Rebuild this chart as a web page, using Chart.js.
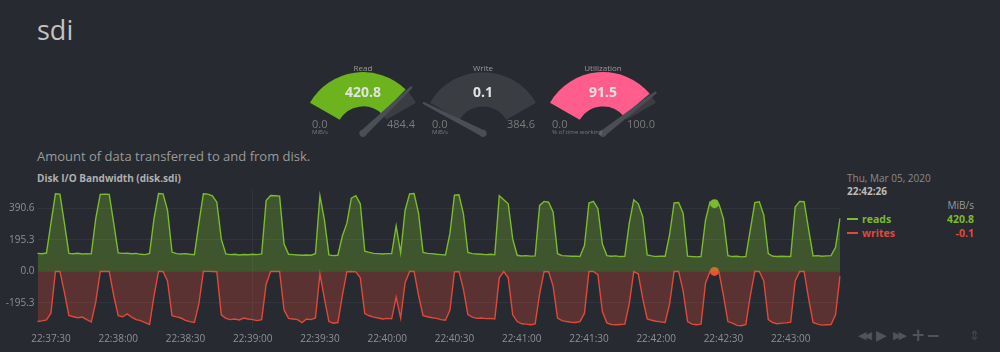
<!DOCTYPE html>
<html>
<head>
<meta charset="utf-8">
<script src="https://cdn.jsdelivr.net/npm/chart.js@4.4.1/dist/chart.umd.min.js"></script>
<style>
html, body { margin: 0; padding: 0; background: #272a30; width: 1000px; height: 352px; overflow: hidden;
  font-family: "Open Sans", Helvetica, Arial, sans-serif; }
.t { position: absolute; white-space: nowrap; line-height: 1; }
.tb { position: absolute; white-space: nowrap; line-height: 1; color: #50545a; font-family: "DejaVu Sans", sans-serif; }
canvas { position: absolute; }
</style>
</head>
<body>
<div class="t" style="left:37px;top:16px;font-size:27px;color:#c2c2c2">sdi</div>
<div class="t" style="left:37px;top:150px;font-size:13px;color:#9a9a9a">Amount of data transferred to and from disk.</div>
<div class="t" style="left:37px;top:173px;font-size:10px;font-weight:bold;color:#b0b0b0">Disk I/O Bandwidth (disk.sdi)</div>

<div class="t" style="left:847px;top:173px;font-size:10px;color:#8a8a8a">Thu, Mar 05, 2020</div>
<div class="t" id="legTime" style="left:847px;top:186px;font-size:10px;font-weight:bold;color:#bbbbbb"></div>
<div class="t" style="right:26px;top:200px;font-size:10px;color:#9a9a9a">MiB/s</div>
<div class="t" style="left:847px;top:218px;width:11px;height:2px;background:#7cba2e"></div>
<div class="t" style="left:862px;top:214px;font-size:10.5px;font-weight:bold;color:#7cba2e">reads</div>
<div class="t" id="legReads" style="right:26px;top:214px;font-size:10.5px;font-weight:bold;color:#7cba2e"></div>
<div class="t" style="left:847px;top:232px;width:11px;height:2px;background:#e0493a"></div>
<div class="t" style="left:862px;top:228px;font-size:10.5px;font-weight:bold;color:#e0493a">writes</div>
<div class="t" id="legWrites" style="right:26px;top:228px;font-size:10.5px;font-weight:bold;color:#e0493a"></div>

<div class="tb" style="left:858px;top:330px;font-size:11px;letter-spacing:-3px">◀◀</div>
<div class="tb" style="left:876px;top:328px;font-size:14px">▶</div>
<div class="tb" style="left:893px;top:330px;font-size:11px;letter-spacing:-3px">▶▶</div>
<div class="tb" style="left:911px;top:327px;font-size:17px;font-weight:bold">+</div>
<div class="tb" style="left:926px;top:327px;font-size:17px;font-weight:bold">−</div>
<div class="tb" style="left:969px;top:329px;font-size:13px;color:#45494f">⇕</div>

<canvas id="main" width="845" height="172" style="left:0;top:180px"></canvas>

<script>
// gauges
const gaugeNames = ['Read', 'Write', 'Utilization'];
const gaugeValues = [420.8, 0.1, 91.5];
const gaugeMax = [484.4, 384.6, 100.0];
const gaugeUnits = ['MiB/s', 'MiB/s', '% of time working'];
const gaugeColors = ['#6db31e', '#e0493a', '#ff5d8c'];

// main chart, one point every 2 seconds from 22:37:24
const reads = [
  112,110,114,300,482,480,300,112,110,113,
  108,110,109,330,478,480,479,300,115,112,
  113,110,112,106,104,112,330,484,482,380,
  120,110,108,110,106,104,300,482,480,470,
  430,200,108,104,106,102,105,103,106,104,
  108,440,472,470,468,170,106,104,102,100,
  102,100,110,470,320,102,98,100,220,298,
  455,470,420,125,118,112,110,108,110,110,
  282,115,380,482,484,360,118,112,110,106,
  104,102,236,474,476,358,118,110,108,106,
  104,106,104,470,445,420,200,100,96,98,
  95,96,410,435,430,370,110,98,96,94,
  95,92,160,425,435,390,170,98,94,96,
  92,94,300,445,420,340,102,96,92,95,
  94,230,425,428,362,95,92,90,92,318,
  432,420.8,418,327,98,92,94,90,92,260,
  428,432,350,110,94,92,94,92,92,400,
  435,433,261,96,98,94,96,98,150,330
];
const writes = [
  -312,-308,-302,-260,-0.5,-0.3,-130,-274,-282,-288,
  -284,-300,-315,-190,-0.5,-0.4,-0.6,-150,-275,-282,
  -264,-285,-300,-306,-318,-330,-150,-0.5,-0.4,-60,
  -275,-283,-290,-305,-312,-318,-200,-0.5,-0.3,-0.4,
  -2,-270,-292,-300,-296,-302,-290,-296,-300,-306,
  -300,-80,-0.4,-0.5,-0.3,-240,-292,-296,-300,-318,
  -296,-300,-290,-15,-170,-312,-322,-318,-150,-2,
  -0.5,-3,-40,-262,-276,-284,-290,-296,-292,-295,
  -160,-290,-70,-0.4,-0.5,-150,-275,-282,-288,-292,
  -300,-304,-240,-3,-0.4,-110,-268,-284,-292,-290,
  -294,-292,-296,-40,-1,-40,-270,-312,-326,-328,
  -332,-326,-140,-0.5,-2,-90,-290,-306,-312,-316,
  -318,-312,-260,-1,-0.4,-20,-250,-320,-330,-332,
  -330,-328,-200,-1,-15,-170,-296,-304,-310,-314,
  -318,-200,-0.5,-0.4,-120,-312,-328,-332,-328,-74,
  -0.5,-0.1,-3,-150,-312,-322,-336,-338,-330,-150,
  -0.5,-0.4,-60,-300,-318,-326,-322,-320,-316,-60,
  -0.5,-0.4,-170,-318,-328,-334,-332,-330,-270,-30
];
const startTime = [22, 37, 24];
const stepSeconds = 2;
const xTickLabels = ['22:37:30','22:38:00','22:38:30','22:39:00','22:39:30','22:40:00',
  '22:40:30','22:41:00','22:41:30','22:42:00','22:42:30','22:43:00'];
const yTicks = [-195.3, 0.0, 195.3, 390.6];
const hoverTime = '22:42:26';

const pad = n => String(n).padStart(2, '0');
const timeLabels = reads.map((_, i) => {
  const s = startTime[0] * 3600 + startTime[1] * 60 + startTime[2] + i * stepSeconds;
  return pad(Math.floor(s / 3600)) + ':' + pad(Math.floor(s / 60) % 60) + ':' + pad(s % 60);
});
const hoverIdx = timeLabels.indexOf(hoverTime);

document.getElementById('legTime').textContent = hoverTime;
document.getElementById('legReads').textContent = reads[hoverIdx].toFixed(1);
document.getElementById('legWrites').textContent = writes[hoverIdx].toFixed(1);

// gauge needle
const needle = {
  id: 'needle',
  afterDatasetsDraw(chart, args, opts) {
    const arc = chart.getDatasetMeta(0).data[0];
    const f = Math.min(opts.value / opts.max, 1);
    const a = (153 - 126 * f) * Math.PI / 180;
    const L = arc.outerRadius * 1.1;
    const x = arc.x, y = arc.y;
    const tx = x + L * Math.cos(a), ty = y - L * Math.sin(a);
    const sx = Math.sin(a), sy = Math.cos(a);
    const c = chart.ctx;
    c.save();
    c.fillStyle = '#4b4f55';
    c.beginPath();
    c.moveTo(x + 3.2 * sx, y + 3.2 * sy);
    c.lineTo(tx + 1.2 * sx, ty + 1.2 * sy);
    c.lineTo(tx - 1.2 * sx, ty - 1.2 * sy);
    c.lineTo(x - 3.2 * sx, y - 3.2 * sy);
    c.closePath();
    c.fill();
    c.beginPath();
    c.arc(x, y, 3.6, 0, Math.PI * 2);
    c.fill();
    c.restore();
  }
};

const gaugeCenters = [363, 483, 603];
gaugeNames.forEach((name, i) => {
  const cx = gaugeCenters[i];
  const cv = document.createElement('canvas');
  cv.width = 140; cv.height = 80;
  cv.style.left = (cx - 70) + 'px'; cv.style.top = '60px';
  document.body.appendChild(cv);
  new Chart(cv.getContext('2d'), {
    type: 'doughnut',
    data: {
      datasets: [{
        data: [gaugeValues[i], gaugeMax[i] - gaugeValues[i]],
        backgroundColor: [gaugeColors[i], '#3a3e43'],
        borderWidth: 0
      }]
    },
    options: {
      responsive: false, animation: false, events: [],
      rotation: -60, circumference: 120, cutout: '44%',
      layout: { padding: { top: 12, bottom: 20, left: 17, right: 17 } },
      plugins: { legend: { display: false }, tooltip: { enabled: false },
        needle: { value: gaugeValues[i], max: gaugeMax[i] } }
    },
    plugins: [needle]
  });
  const add = (txt, css) => {
    const d = document.createElement('div');
    d.className = 't'; d.textContent = txt; d.style.cssText = css;
    document.body.appendChild(d);
  };
  add(name, `left:${cx}px;top:64px;font-size:8px;color:#9a9a9a;transform:translateX(-50%)`);
  add(gaugeValues[i].toFixed(1), `left:${cx}px;top:85px;font-size:14px;font-weight:bold;color:#e2e2e2;transform:translateX(-50%)`);
  add('0.0', `left:${cx - 51}px;top:118px;font-size:11px;color:#7a7a7a`);
  add(gaugeMax[i].toFixed(1), `left:${cx + 24}px;top:118px;font-size:11px;color:#7a7a7a`);
  add(gaugeUnits[i], `left:${cx - 51}px;top:129px;font-size:6px;color:#7a7a7a`);
});

// main chart
new Chart(document.getElementById('main').getContext('2d'), {
  type: 'line',
  data: {
    labels: timeLabels,
    datasets: [
      {
        label: 'reads', data: reads,
        borderColor: '#7cba2e', backgroundColor: 'rgba(119,184,42,0.3)',
        fill: 'origin', borderWidth: 1.4, tension: 0,
        pointRadius: ctx => ctx.dataIndex === hoverIdx ? 4.5 : 0,
        pointBackgroundColor: '#7cba2e', pointBorderWidth: 0
      },
      {
        label: 'writes', data: writes,
        borderColor: '#e0493a', backgroundColor: 'rgba(224,73,58,0.28)',
        fill: 'origin', borderWidth: 1.4, tension: 0,
        pointRadius: ctx => ctx.dataIndex === hoverIdx ? 4.5 : 0,
        pointBackgroundColor: '#f0502e', pointBorderWidth: 0
      }
    ]
  },
  options: {
    responsive: false, animation: false, events: [],
    layout: { padding: { top: 4, right: 5, left: 0, bottom: 0 } },
    plugins: { legend: { display: false }, tooltip: { enabled: false } },
    scales: {
      x: {
        border: { display: false },
        grid: {
          drawTicks: false,
          color: ctx => (ctx.tick && xTickLabels.includes(timeLabels[ctx.index])) ? '#31353b' : 'rgba(0,0,0,0)'
        },
        ticks: {
          autoSkip: false, maxRotation: 0, padding: 5, color: '#8d9095',
          font: { size: 10, family: '"Open Sans", Helvetica, Arial, sans-serif' },
          callback(v) { const l = this.getLabelForValue(v); return xTickLabels.includes(l) ? l : null; }
        },
        afterFit(s) { s.height = 24; }
      },
      y: {
        min: -352, max: 512,
        border: { display: false },
        grid: { drawTicks: false, color: '#31353b' },
        afterBuildTicks(s) { s.ticks = yTicks.map(v => ({ value: v })); },
        ticks: {
          padding: 3, color: '#8d9095',
          font: { size: 10, family: '"Open Sans", Helvetica, Arial, sans-serif' },
          callback: v => v.toFixed(1)
        },
        afterFit(s) { s.width = 37.5; }
      }
    }
  }
});
</script>
</body>
</html>
